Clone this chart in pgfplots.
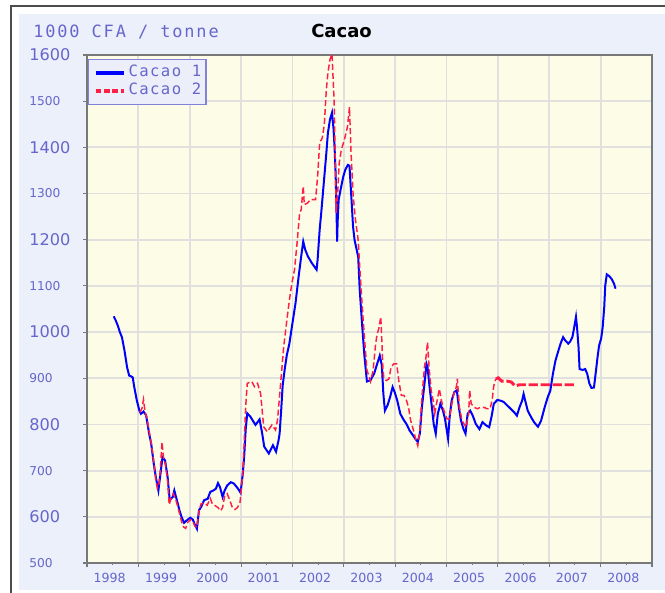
\documentclass[border=0pt]{standalone}
\usepackage{pgfplots}
\pgfplotsset{compat=1.18}
\usepackage{fontspec}
\setmainfont{DejaVu Sans}
\newfontfamily\legfont[LetterSpace=9]{DejaVu Sans Mono}
\newfontfamily\titfont[LetterSpace=11]{DejaVu Sans Mono}
\definecolor{panelbg}{RGB}{236,240,250}
\definecolor{legbg}{RGB}{236,238,250}
\definecolor{plotbg}{RGB}{253,252,230}
\definecolor{gridc}{RGB}{224,224,222}
\definecolor{labc}{RGB}{102,102,204}
\definecolor{legc}{RGB}{130,130,220}
\definecolor{axc}{RGB}{120,120,120}
\definecolor{bl}{RGB}{0,0,255}
\definecolor{rd}{RGB}{255,30,70}
\newcommand{\Lg}[1]{{\fontsize{12.1pt}{12pt}\selectfont #1}}
\newcommand{\Sm}[1]{{\fontsize{9.15pt}{9pt}\selectfont #1}}
\begin{document}
\begin{tikzpicture}
\path[use as bounding box] (0,0) rectangle (498.75pt,444.75pt);
\fill[white] (0,0) rectangle (498.75pt,444.75pt);
\fill[panelbg] (14.25pt,2.25pt) rectangle (498.75pt,434.25pt);
\draw[line width=1.1pt, black!70] (8.25pt,0) -- (8.25pt,440.25pt) -- (498.75pt,440.25pt);
\node[anchor=base west, inner sep=0pt, text=labc, font=\titfont\fontsize{12.7pt}{12pt}\selectfont] at (24.75pt,416.25pt) {1000 CFA / tonne};
\node[anchor=base west, inner sep=0pt, text=black, font=\bfseries\fontsize{13.5pt}{13pt}\selectfont] at (233.25pt,416.25pt) {Cacao};
\begin{axis}[
  at={(65.25pt,22.5pt)}, anchor=south west,
  scale only axis, width=423.75pt, height=381pt,
  xmin=1998, xmax=2009, ymin=500, ymax=1600,
  axis background/.style={fill=plotbg},
  axis line style={axc, line width=1pt},
  xtick={1998,1999,2000,2001,2002,2003,2004,2005,2006,2007,2008,2009},
  xticklabels={},
  extra x ticks={1998.5,1999.5,2000.5,2001.5,2002.5,2003.5,2004.5,2005.5,2006.5,2007.5,2008.5},
  extra x tick labels={1998,1999,2000,2001,2002,2003,2004,2005,2006,2007,2008},
  extra x tick style={grid=none, major tick length=1.5pt, xticklabel style={font=\fontsize{9.45pt}{9pt}\selectfont, text=labc, inner sep=0pt, anchor=north, yshift=-6pt, xshift=-2.25pt}},
  ytick={500,600,700,800,900,1000,1100,1200,1300,1400,1500,1600},
  yticklabels={\Sm{500},\Lg{600},\Sm{700},\Lg{800},\Sm{900},\Lg{1000},\Sm{1100},\Lg{1200},\Sm{1300},\Lg{1400},\Sm{1500},\Lg{1600}},
  grid=major,
  major grid style={gridc, line width=1.4pt},
  tick align=outside,
  xtick pos=bottom, ytick pos=left,
  major tick length=3pt,
  tick style={axc, line width=0.8pt},
  yticklabel style={text=labc, anchor=west, inner sep=0pt, xshift=-40.5pt},
  legend style={at={(rel axis cs:0,1)}, anchor=north west, xshift=1pt, yshift=-3pt, draw=legc, fill=legbg, font=\legfont\fontsize{11.7pt}{12pt}\selectfont, text=labc, inner xsep=3.5pt, inner ysep=3.5pt, nodes={inner sep=0pt, text height=9pt, text depth=4.5pt}, column sep=2pt, line width=0.8pt},
  legend cell align=left,
  legend image code/.code={\draw[#1] (0pt,0pt) -- (21.3pt,0pt);},
]
\addlegendimage{bl, line width=3pt}
\addlegendentry{Cacao 1}
\addlegendimage{rd, line width=3pt, dash pattern=on 4.25pt off 2pt}
\addlegendentry{Cacao 2}
% Cacao 1
\addplot[bl, line width=1.5pt, forget plot] coordinates {
(1998.52,1034) (1998.56,1025) (1998.60,1014) (1998.64,1000) (1998.68,989) (1998.73,960)
(1998.78,924) (1998.82,906) (1998.86,904) (1998.89,902) (1998.92,881) (1998.97,852)
(1999.02,830) (1999.05,823) (1999.10,828) (1999.15,820) (1999.21,780) (1999.25,758)
(1999.30,715) (1999.34,686) (1999.39,657) (1999.43,693) (1999.47,729) (1999.52,722)
(1999.57,686) (1999.61,636) (1999.67,643) (1999.70,657) (1999.75,636) (1999.80,614)
(1999.84,600) (1999.89,587) (1999.94,592) (2000.01,598) (2000.06,594) (2000.10,583)
(2000.14,574) (2000.18,614) (2000.22,621) (2000.28,636) (2000.35,639) (2000.40,654)
(2000.46,657) (2000.51,661) (2000.55,673) (2000.59,664) (2000.64,643) (2000.68,657)
(2000.73,668) (2000.80,675) (2000.86,672) (2000.94,661) (2000.99,652) (2001.03,690)
(2001.06,730) (2001.09,790) (2001.12,824) (2001.18,817) (2001.28,799) (2001.36,811)
(2001.41,781) (2001.45,752) (2001.54,737) (2001.62,755) (2001.68,741) (2001.73,766)
(2001.75,780) (2001.78,830) (2001.81,885) (2001.85,920) (2001.89,950) (2001.94,975)
(2001.99,1012) (2002.06,1063) (2002.12,1120) (2002.17,1164) (2002.21,1196) (2002.25,1178)
(2002.30,1164) (2002.38,1149) (2002.47,1135) (2002.49,1157) (2002.53,1222) (2002.56,1258)
(2002.61,1323) (2002.66,1388) (2002.69,1431) (2002.73,1460) (2002.77,1475) (2002.80,1440)
(2002.82,1400) (2002.84,1345) (2002.86,1250) (2002.87,1196) (2002.88,1240) (2002.90,1287)
(2002.94,1310) (2002.99,1337) (2003.03,1352) (2003.08,1362) (2003.11,1360) (2003.15,1286)
(2003.18,1228) (2003.21,1199) (2003.28,1163) (2003.31,1091) (2003.36,1010) (2003.40,950)
(2003.45,893) (2003.52,896) (2003.59,910) (2003.64,928) (2003.70,949) (2003.74,928)
(2003.77,866) (2003.80,830) (2003.85,841) (2003.90,859) (2003.95,881) (2003.99,870)
(2004.04,852) (2004.10,823) (2004.17,809) (2004.22,801) (2004.28,787) (2004.35,776)
(2004.39,769) (2004.44,762) (2004.48,780) (2004.52,837) (2004.57,888) (2004.61,931)
(2004.63,924) (2004.67,881) (2004.70,852) (2004.75,801) (2004.79,780) (2004.83,823)
(2004.88,845) (2004.93,830) (2004.97,812) (2005.03,769) (2005.06,816) (2005.10,852)
(2005.15,870) (2005.20,874) (2005.24,837) (2005.28,809) (2005.33,790) (2005.37,780)
(2005.41,823) (2005.46,830) (2005.51,819) (2005.57,801) (2005.64,790) (2005.70,805)
(2005.77,798) (2005.83,794) (2005.88,819) (2005.92,845) (2005.99,853) (2006.07,851)
(2006.12,848) (2006.22,837) (2006.32,826) (2006.37,819) (2006.42,837) (2006.47,851)
(2006.50,866) (2006.54,848) (2006.58,830) (2006.65,815) (2006.71,804) (2006.78,795)
(2006.84,808) (2006.91,837) (2006.97,859) (2007.02,873) (2007.07,909) (2007.12,938)
(2007.17,957) (2007.22,975) (2007.27,989) (2007.31,982) (2007.37,975) (2007.41,980)
(2007.45,989) (2007.48,1007) (2007.52,1033) (2007.54,1011) (2007.57,967) (2007.59,920)
(2007.65,918) (2007.70,920) (2007.74,909) (2007.78,889) (2007.82,879) (2007.87,880)
(2007.91,917) (2007.94,946) (2007.97,971) (2008.01,986) (2008.04,1011) (2008.07,1054)
(2008.09,1101) (2008.12,1125) (2008.17,1121) (2008.22,1114) (2008.26,1105) (2008.29,1094)
};
% Cacao 2
\addplot[rd, line width=1.1pt, dash pattern=on 4.5pt off 2.2pt, forget plot] coordinates {
(1999.03,826) (1999.07,835) (1999.10,854) (1999.13,828) (1999.17,812) (1999.21,785)
(1999.25,760) (1999.30,718) (1999.34,680) (1999.37,662) (1999.40,670) (1999.43,705)
(1999.46,762) (1999.49,728) (1999.53,712) (1999.57,678) (1999.60,626) (1999.64,642)
(1999.68,650) (1999.72,640) (1999.76,625) (1999.80,608) (1999.84,590) (1999.88,578)
(1999.92,575) (1999.96,588) (2000.02,594) (2000.06,590) (2000.10,580) (2000.14,577)
(2000.18,612) (2000.22,628) (2000.28,630) (2000.34,625) (2000.40,640) (2000.44,628)
(2000.50,624) (2000.55,620) (2000.60,613) (2000.64,620) (2000.68,645) (2000.73,650)
(2000.78,636) (2000.83,620) (2000.88,616) (2000.93,620) (2000.98,632) (2001.03,690)
(2001.06,760) (2001.09,840) (2001.12,889) (2001.21,893) (2001.26,882) (2001.32,889)
(2001.38,867) (2001.44,795) (2001.51,784) (2001.60,799) (2001.67,788) (2001.71,810)
(2001.77,889) (2001.83,969) (2001.90,1034) (2001.95,1077) (2001.99,1106) (2002.04,1135)
(2002.09,1193) (2002.14,1258) (2002.17,1265) (2002.21,1316) (2002.23,1276) (2002.29,1279)
(2002.35,1287) (2002.45,1287) (2002.49,1337) (2002.53,1410) (2002.58,1420) (2002.62,1449)
(2002.66,1525) (2002.69,1561) (2002.73,1590) (2002.77,1602) (2002.81,1504) (2002.83,1400)
(2002.85,1258) (2002.88,1300) (2002.91,1366) (2002.95,1394) (2003.01,1416) (2003.07,1444)
(2003.11,1487) (2003.14,1390) (2003.18,1300) (2003.22,1249) (2003.28,1199) (2003.31,1141)
(2003.35,1070) (2003.40,990) (2003.45,918) (2003.52,893) (2003.57,917) (2003.62,975)
(2003.65,996) (2003.68,1007) (2003.72,1033) (2003.74,982) (2003.76,924) (2003.78,899)
(2003.83,895) (2003.88,899) (2003.92,924) (2003.97,931) (2004.03,931) (2004.07,895)
(2004.12,863) (2004.17,863) (2004.22,852) (2004.26,837) (2004.30,809) (2004.35,790)
(2004.39,772) (2004.44,754) (2004.48,787) (2004.52,859) (2004.57,924) (2004.60,946)
(2004.63,978) (2004.66,924) (2004.70,874) (2004.74,852) (2004.77,823) (2004.81,848)
(2004.86,877) (2004.90,852) (2004.95,830) (2005.01,812) (2005.05,812) (2005.09,837)
(2005.14,866) (2005.19,881) (2005.21,899) (2005.25,837) (2005.30,809) (2005.34,801)
(2005.38,794) (2005.43,823) (2005.45,874) (2005.48,845) (2005.54,837) (2005.60,834)
(2005.66,837) (2005.73,837) (2005.79,834) (2005.85,834) (2005.89,855) (2005.92,884)
(2005.96,899)
};
\addplot[rd, line width=2.2pt, dash pattern=on 7pt off 2pt, forget plot] coordinates {
(2005.96,899) (2006.01,901) (2006.07,894) (2006.17,894) (2006.26,892) (2006.32,885)
(2006.36,884) (2006.42,886) (2007.00,886) (2007.50,886)
};
\end{axis}
\end{tikzpicture}
\end{document}
